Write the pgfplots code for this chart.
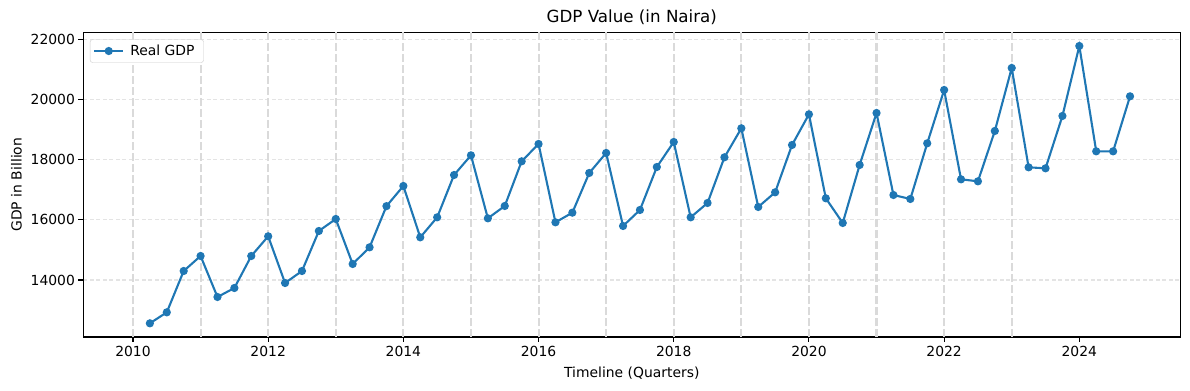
\documentclass[border=0pt]{standalone}
\usepackage{fontspec}
\setmainfont{DejaVu Sans}
\usepackage{pgfplots}
\pgfplotsset{compat=1.18}
\definecolor{mplblue}{HTML}{1F77B4}
\definecolor{vgrid}{HTML}{DADADA}
\definecolor{hgrid}{HTML}{E4E4E4}
\begin{document}
\begin{tikzpicture}
\begin{axis}[
  scale only axis,
  width=1097bp, height=304.7bp,
  xmin=2009.265, xmax=2025.494,
  ymin=12105, ymax=22233,
  xtick={2010,2012,...,2024},
  ytick={14000,16000,...,22000},
  scaled y ticks=false, scaled x ticks=false,
  /pgf/number format/.cd, 1000 sep={}, assume math mode=true,
  /pgfplots/.cd,
  tick align=outside,
  xtick pos=left, ytick pos=left,
  major tick length=4.9bp,
  tick style={black, line width=1.1bp},
  axis line style={black, line width=1.1bp},
  ymajorgrids,
  major grid style={hgrid, line width=1.1bp, dash pattern=on 4bp off 2.5bp},
  extra x ticks={2010,2011,...,2023},
  extra x tick labels={},
  extra x tick style={grid=major, major tick length=0pt,
     major grid style={vgrid, line width=2.1bp, dash pattern=on 7.7bp off 3.3bp}},
  ticklabel style={font=\fontsize{13.9bp}{16bp}\selectfont},
  xticklabel style={yshift=-1bp},
  label style={font=\fontsize{13.9bp}{16bp}\selectfont},
  xlabel={Timeline (Quarters)},
  ylabel={GDP in Billion},
  xlabel style={yshift=2bp},
  ylabel style={yshift=2bp},
  title={GDP Value (in Naira)},
  title style={font=\fontsize{16.7bp}{19bp}\selectfont, yshift=-1.5bp},
  legend style={at={(0.0061,0.977)}, anchor=north west,
     font=\fontsize{13.9bp}{16bp}\selectfont,
     draw=black!20, rounded corners=2.5bp, fill=white,
     inner xsep=3bp, inner ysep=3.5bp,
     nodes={inner xsep=6bp}},
  legend cell align=left,
  legend image code/.code={\draw[mark repeat=2, mark phase=2, #1] plot coordinates {(0bp,0bp) (14.5bp,0bp) (29bp,0bp)};},
]
\addplot[mplblue, line width=2.1bp, mark=*, mark size=3bp, mark options={solid, fill=mplblue, draw=mplblue}] coordinates {
(2010.25,12560) (2010.5,12925) (2010.75,14299) (2011.0,14798)
(2011.25,13435) (2011.5,13734) (2011.75,14798) (2012.0,15452)
(2012.25,13900) (2012.5,14299) (2012.75,15629) (2013.0,16028)
(2013.25,14532) (2013.5,15086) (2013.75,16455) (2014.0,17125)
(2014.25,15418) (2014.5,16083) (2014.75,17490) (2015.0,18144)
(2015.25,16050) (2015.5,16460) (2015.75,17945) (2016.0,18521)
(2016.25,15917) (2016.5,16238) (2016.75,17557) (2017.0,18222)
(2017.25,15795) (2017.5,16327) (2017.75,17756) (2018.0,18587)
(2018.25,16083) (2018.5,16560) (2018.75,18078) (2019.0,19042)
(2019.25,16427) (2019.5,16914) (2019.75,18488) (2020.0,19507)
(2020.25,16715) (2020.5,15895) (2020.75,17823) (2021.0,19551)
(2021.25,16825) (2021.5,16693) (2021.75,18543) (2022.0,20316)
(2022.25,17346) (2022.5,17280) (2022.75,18953) (2023.0,21047)
(2023.25,17745) (2023.5,17712) (2023.75,19452) (2024.0,21778)
(2024.25,18277) (2024.5,18277) (2024.75,20105)
};
\addlegendentry{Real GDP}
\end{axis}
\path (current axis.south west) ++(-83.3bp,-53bp) coordinate (bbA);
\path (current axis.north east) ++(9.7bp,32.3bp) coordinate (bbB);
\path (bbA) rectangle (bbB);
\end{tikzpicture}
\end{document}
